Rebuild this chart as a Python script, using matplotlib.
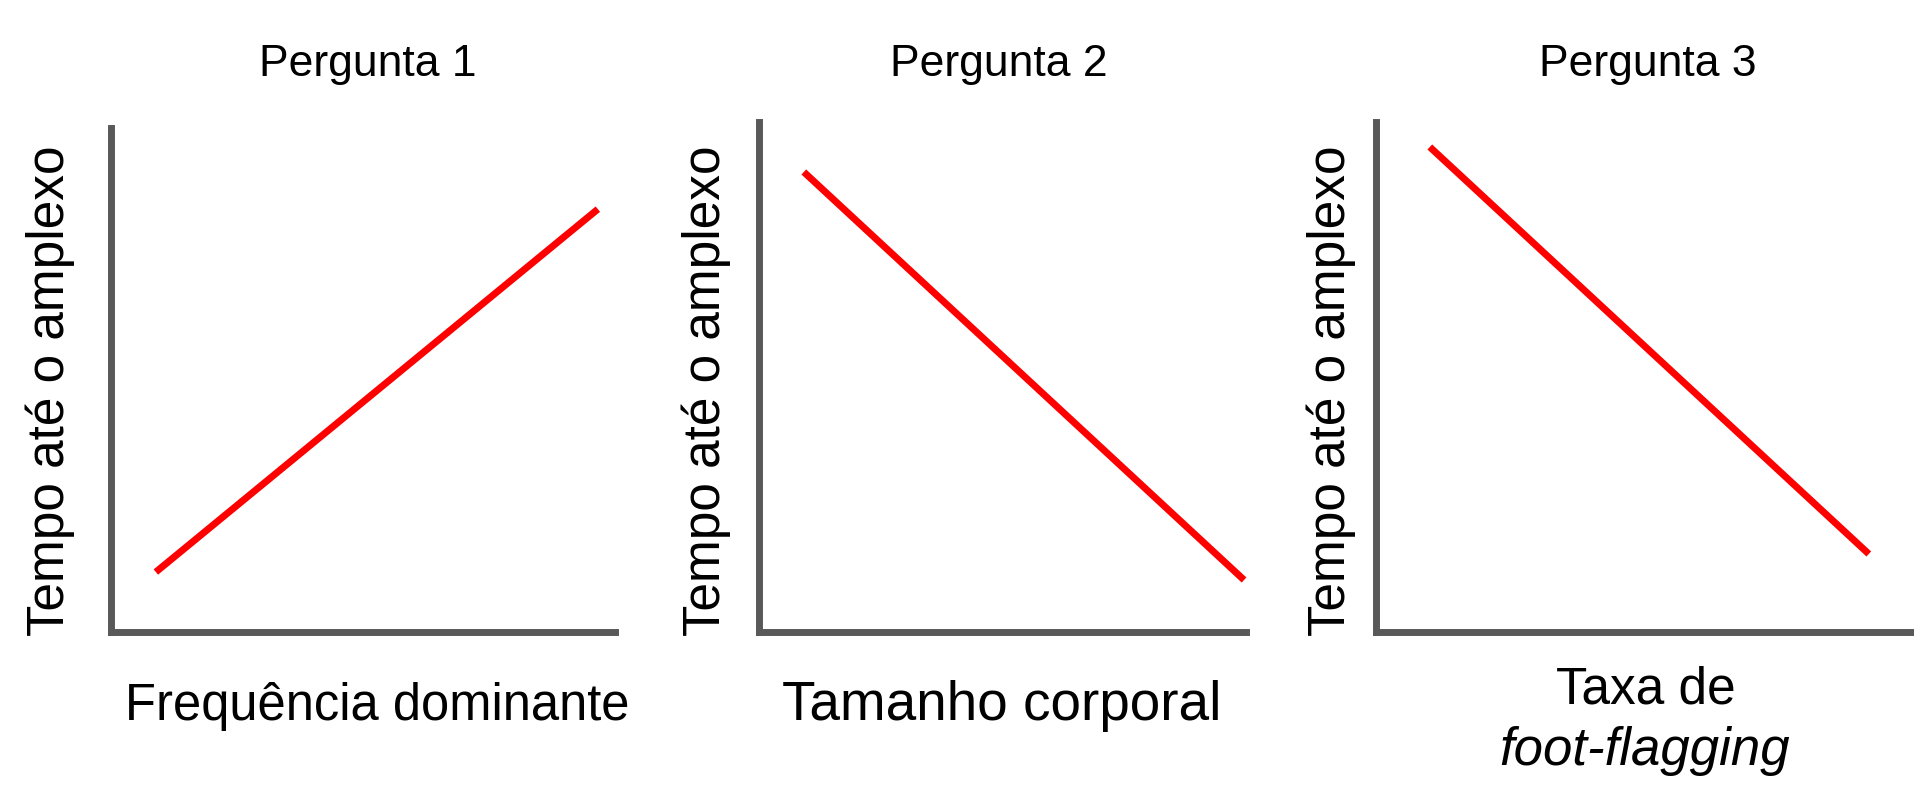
import matplotlib.pyplot as plt

plt.rcParams['font.family'] = ['Liberation Sans', 'DejaVu Sans']

# chart content
questions = ['Pergunta 1', 'Pergunta 2', 'Pergunta 3']
y_label = 'Tempo até o amplexo'
x_labels = ['Frequência dominante', 'Tamanho corporal', 'Taxa de']
x_label_extra = 'foot-flagging'

# predicted trend lines (arbitrary units, axes 0..1)
line_x = [[0.089, 0.966], [0.092, 0.996], [0.100, 0.916]]
line_y = [[0.119, 0.839], [0.902, 0.102], [0.951, 0.153]]

W, H = 1914, 799


def fx(px):
    return px / W


def fy(py):
    return 1 - py / H


def make_panel(fig, left, right, top, bottom):
    ax = fig.add_axes([fx(left), fy(bottom), fx(right - left), (bottom - top) / H])
    ax.set_xlim(0, 1)
    ax.set_ylim(0, 1)
    for side in ['top', 'right']:
        ax.spines[side].set_visible(False)
    for side in ['left', 'bottom']:
        ax.spines[side].set_color('#595959')
        ax.spines[side].set_linewidth(5)
    ax.set_xticks([])
    ax.set_yticks([])
    ax.patch.set_alpha(0)
    return ax


fig = plt.figure(figsize=(W / 100, H / 100), dpi=100)

boxes = [(111, 615, 128, 632), (759, 1246, 122, 632), (1376, 1914, 122, 632)]
title_x = [368, 999, 1648]
ylabel_x = [64, 720, 1345]

for i, (l, r, t, b) in enumerate(boxes):
    ax = make_panel(fig, l, r, t, b)
    ax.plot(line_x[i], line_y[i], color='#ff0000', lw=5, clip_on=False,
            solid_capstyle='butt')
    fig.text(fx(title_x[i]), fy(76), questions[i], fontsize=32,
             ha='center', va='baseline')
    fig.text(fx(ylabel_x[i]), fy(391), y_label, fontsize=37, rotation=90,
             rotation_mode='anchor', ha='center', va='baseline')

fig.text(fx(377), fy(720), x_labels[0], fontsize=36.5, ha='center', va='baseline')
fig.text(fx(1002), fy(720), x_labels[1], fontsize=39.5, ha='center', va='baseline')
fig.text(fx(1646), fy(703), x_labels[2], fontsize=37, ha='center', va='baseline')
fig.text(fx(1645), fy(765), x_label_extra, fontsize=38, style='italic',
         ha='center', va='baseline')

fig.savefig('out.png', dpi=100, facecolor='white')
